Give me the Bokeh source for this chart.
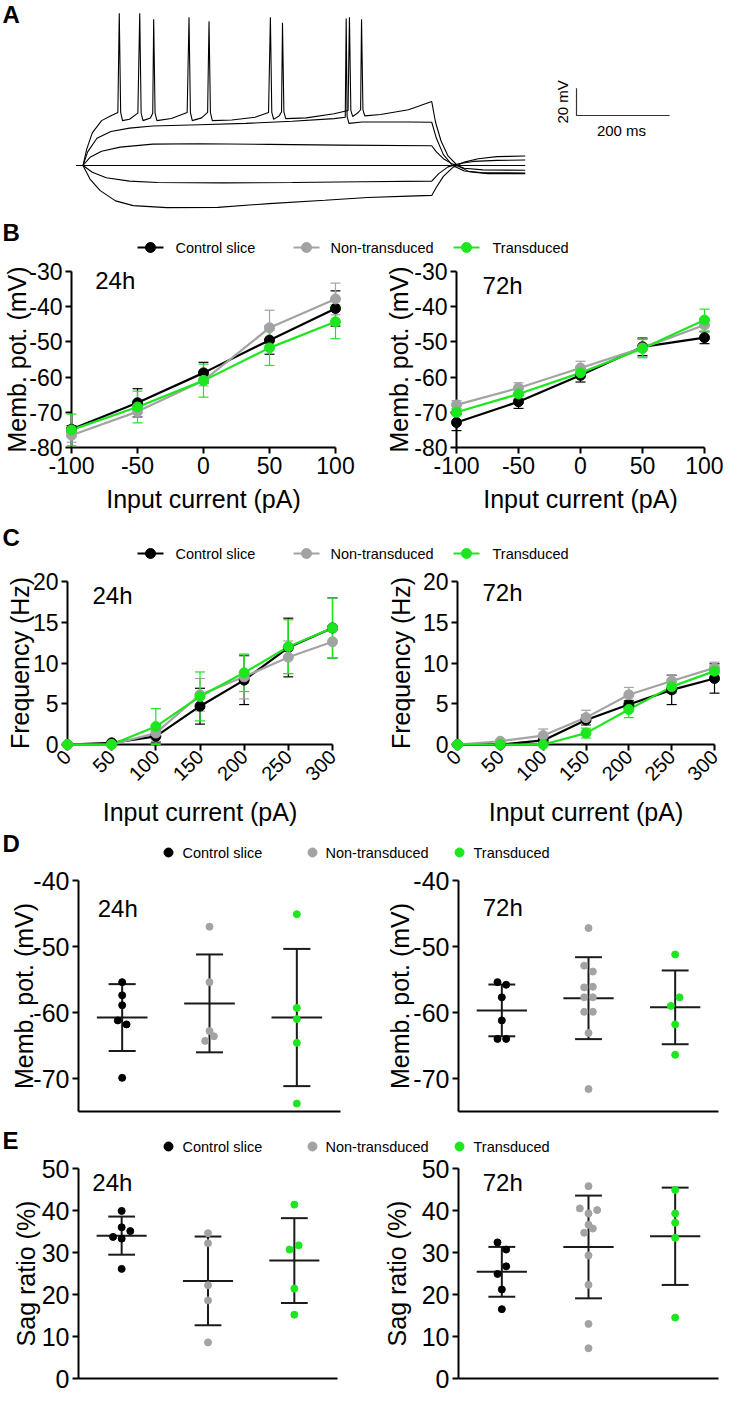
import math
import numpy as np
from bokeh.plotting import figure
from bokeh.layouts import column, row
from bokeh.models import Range1d, FixedTicker, Label
from bokeh.core.properties import value
from bokeh.embed import file_html
from bokeh.resources import INLINE

FONT = "Liberation Sans"
BLACK = "#000000"
GRAY = "#a3a3a3"
GREEN = "#1ee61e"
BAR = "#1a1a1a"

series = ["Control slice", "Non-transduced", "Transduced"]
colors = [BLACK, GRAY, GREEN]

# ---------------- Panel A: representative traces (time ms, Vm mV) ----------------
trace_currents = [-100, -50, 0, 50, 100, 150]
t_m100 = [-15, 0, 15, 37, 70, 108, 180, 290, 400, 520, 612, 700, 750, 760, 775, 795, 820, 850, 890, 951]
v_m100 = [-60, -60, -70, -78.5, -86, -89.5, -91, -90.8, -88, -85.5, -83.5, -82.5, -82, -76, -68, -61.5, -57.5, -55, -53.5, -53]
t_m50 = [-15, 0, 20, 50, 100, 160, 300, 450, 600, 750, 765, 785, 810, 840, 890, 951]
v_m50 = [-60, -60, -65, -69, -71.5, -72.5, -72.8, -72.5, -72, -71.5, -66, -61, -58.5, -57, -56.2, -56]
t_0 = [-15, 951]
v_0 = [-60, -60]
t_p50 = [-15, 0, 15, 40, 80, 150, 250, 400, 550, 750, 760, 775, 795, 820, 860, 951]
v_p50 = [-60, -60, -54, -49.5, -46.5, -44.3, -44, -44.5, -45, -45.5, -50, -55, -59, -62, -63.2, -63.5]
t_p100 = [-15, 0, 10, 30, 60, 100, 150, 250, 350, 450, 540, 564, 566, 568, 572, 600, 700, 750,
          760, 775, 795, 820, 860, 951]
v_p100 = [-60, -60, -50, -40, -35, -32.5, -31, -30, -29, -27.5, -25.5, -24.5, 48, -24, -29, -28, -28, -28.2,
          -40, -52, -60, -64, -65.3, -65.5]
t_p150 = [-15, 0, 8, 20, 40, 60, 75, 78, 81, 85, 100, 118, 122, 125, 129, 145, 150, 152, 155, 159,
          190, 224, 228, 231, 235, 255, 268, 271, 274, 278, 320, 370, 399, 403, 406, 410, 422, 427,
          429, 432, 436, 480, 540, 570, 573, 576, 580, 592, 597, 599, 602, 606, 640, 700, 750,
          758, 770, 785, 805, 830, 870, 951]
v_p150 = [-60, -60, -48, -36, -27, -23.5, -21, 52, -21, -27, -26, -21.5, 52, -21.5, -27, -25, -21.5, 47.5, -21.5, -27,
          -25.5, -21, 49, -21, -27, -25, -21, 46, -21, -27, -26.5, -24.5, -21, 49, -21, -26, -23.5, -20.5,
          45, -20.5, -25.5, -25, -22, -19.5, 49, -19.5, -24, -21, -19, 47.5, -19, -23.5, -22.5, -19, -13,
          -28, -42, -53, -60, -64.5, -66, -66]
scale_ms = 200
scale_mv = 20

# ---------------- Panel B: membrane potential vs input current ----------------
b_current = [-100, -50, 0, 50, 100]
b_yticks = [-80, -70, -60, -50, -40, -30]
b24_mean = [[-74.8, -67.3, -58.8, -49.5, -40.5],
            [-76.5, -69.8, -61.0, -46.0, -37.8],
            [-75.0, -68.5, -61.0, -51.7, -44.3]]
b24_err = [[1.0, 4.0, 3.0, 4.0, 5.0],
           [2.0, 1.5, 1.5, 5.0, 4.5],
           [4.5, 4.5, 4.7, 5.0, 4.8]]
b72_mean = [[-72.9, -67.0, -59.5, -51.4, -48.8],
            [-67.9, -63.1, -57.4, -51.7, -45.2],
            [-70.0, -64.8, -58.8, -51.9, -43.8]]
b72_err = [[2.3, 1.9, 1.9, 2.5, 1.7],
           [1.2, 1.5, 1.9, 2.5, 1.9],
           [1.0, 1.5, 1.5, 2.6, 3.1]]

# ---------------- Panel C: firing frequency vs input current ----------------
c_current = [0, 50, 100, 150, 200, 250, 300]
c_yticks = [0, 5, 10, 15, 20]
c24_mean = [[0, 0.2, 1.0, 4.7, 7.9, 11.9, 14.3],
            [0, 0.0, 1.4, 6.1, 8.3, 10.7, 12.6],
            [0, 0.0, 2.2, 5.9, 8.8, 12.0, 14.3]]
c24_err = [[0, 0.2, 0.7, 2.2, 3.0, 3.6, 3.7],
           [0, 0.0, 1.0, 2.0, 2.7, 2.0, 2.0],
           [0, 0.0, 2.2, 3.0, 2.3, 3.3, 3.7]]
c72_mean = [[0, 0.0, 0.5, 3.0, 4.9, 6.7, 8.1],
            [0, 0.4, 1.1, 3.3, 6.1, 7.8, 9.4],
            [0, 0.0, 0.0, 1.4, 4.3, 7.1, 9.0]]
c72_err = [[0, 0.0, 0.3, 0.6, 0.5, 1.8, 1.8],
           [0, 0.1, 0.8, 0.9, 0.9, 0.7, 0.7],
           [0, 0.0, 0.0, 0.6, 1.0, 0.8, 0.5]]

# ---------------- Panel D: resting membrane potential per cell ----------------
d_yticks = [-70, -60, -50, -40]
d24_vals = [[-55.4, -57.4, -58.9, -61.2, -61.8, -69.9],
            [-47.0, -55.4, -62.8, -64.3, -63.6],
            [-45.1, -59.3, -61.0, -64.6, -73.8]]
d24_jit = [[0, 0, 0, -0.05, 0.05, 0],
           [0, 0, 0, -0.05, 0.05],
           [0, 0, 0, 0, 0]]
d72_vals = [[-55.4, -55.8, -57.7, -61.2, -64.0, -64.0],
            [-47.2, -52.9, -53.8, -56.2, -56.1, -57.7, -57.7, -59.9, -59.9, -63.1, -71.6],
            [-51.2, -57.7, -59.0, -61.8, -66.4]]
d72_jit = [[-0.05, 0.05, 0, 0, -0.05, 0.05],
           [0, -0.05, 0.05, -0.05, 0.05, -0.05, 0.05, -0.05, 0.05, 0, 0],
           [0, 0.05, -0.05, 0, 0]]

# ---------------- Panel E: sag ratio per cell ----------------
e_yticks = [0, 10, 20, 30, 40, 50]
e24_vals = [[39.9, 36.0, 33.7, 35.1, 33.3, 26.1],
            [34.6, 32.2, 22.2, 18.6, 8.6],
            [41.4, 30.7, 31.7, 21.4, 15.2]]
e24_jit = [[0, 0, -0.1, 0.1, 0, 0],
           [0, 0, 0, 0, 0],
           [0, -0.055, 0.05, 0, 0]]
e72_vals = [[32.4, 30.7, 26.7, 24.9, 21.2, 16.5],
            [45.8, 40.5, 40.1, 39.3, 36.6, 34.7, 35.7, 29.3, 22.3, 13.0, 7.2],
            [44.9, 39.3, 37.1, 33.5, 14.5]]
e72_jit = [[-0.05, 0.05, 0.05, -0.05, 0, 0],
           [0, -0.1, 0.1, 0, 0, -0.05, 0.05, 0, 0, 0, 0],
           [0, 0, 0, 0, 0]]


# ---------------- helpers ----------------
def base_fig(w, h, bl, br, bt, bb, xr, yr, axes=True):
    kw = {}
    if not axes:
        kw = dict(x_axis_type=None, y_axis_type=None)
    p = figure(width=w, height=h, x_range=Range1d(*xr), y_range=Range1d(*yr),
               output_backend="svg", toolbar_location=None, tools="",
               min_border_left=bl, min_border_right=br, min_border_top=bt, min_border_bottom=bb, **kw)
    p.outline_line_color = None
    p.grid.visible = False
    p.background_fill_color = "white"
    p.border_fill_color = "white"
    return p


def style_axis(ax, ticks, tick_size, label_standoff, label_size="25px"):
    ax.ticker = FixedTicker(ticks=ticks)
    ax.major_label_overrides = {t: str(t) for t in ticks}
    ax.axis_line_width = 2
    ax.axis_line_color = "black"
    ax.major_tick_line_width = 2
    ax.major_tick_line_color = "black"
    ax.major_tick_out = 6
    ax.major_tick_in = 0
    ax.minor_tick_line_color = None
    ax.major_label_text_font = FONT
    ax.major_label_text_font_size = tick_size
    ax.major_label_text_color = "black"
    ax.major_label_standoff = 3
    ax.axis_label_text_font = FONT
    ax.axis_label_text_font_size = label_size
    ax.axis_label_text_font_style = "normal"
    ax.axis_label_text_color = "black"
    ax.axis_label_standoff = label_standoff


def hide_cat_axis(ax):
    ax.ticker = FixedTicker(ticks=[])
    ax.axis_line_width = 2
    ax.axis_line_color = "black"
    ax.major_tick_out = 0
    ax.major_tick_in = 0
    ax.minor_tick_line_color = None
    ax.major_label_text_font_size = "0px"


def add_tag(p, x, y, txt):
    p.add_layout(Label(x=x, y=y, text=txt, text_font=FONT, text_font_size="24px",
                       text_baseline="middle", text_align="left", text_color="black"))


def line_panel(p, frame_w, xs, means, errs):
    xs = np.array(xs, dtype=float)
    cap = 5.0 * (p.x_range.end - p.x_range.start) / frame_w
    for m, e, c in zip(means, errs, colors):
        m = np.array(m, dtype=float)
        e = np.array(e, dtype=float)
        k = e > 0
        x, lo, hi = xs[k], (m - e)[k], (m + e)[k]
        p.segment(x, lo, x, hi, line_color=c, line_width=1.2, level="overlay")
        p.segment(x - cap, hi, x + cap, hi, line_color=c, line_width=1.2, level="overlay")
        p.segment(x - cap, lo, x + cap, lo, line_color=c, line_width=1.2, level="overlay")
    for m, c in zip(means, colors):
        p.line(xs, m, line_color=c, line_width=2.2, level="overlay")
    for m, c in zip(means, colors):
        p.scatter(xs, m, size=10, fill_color=c, line_color=c, level="overlay")


def dot_panel(p, vals_list, jit_list):
    for i, vals in enumerate(vals_list):
        cx = i + 0.5
        v = np.array(vals, dtype=float)
        mean = v.mean()
        sd = v.std(ddof=1)
        p.segment([cx - 0.29], [mean], [cx + 0.29], [mean], line_color=BAR, line_width=2, level="overlay")
        p.segment([cx], [mean - sd], [cx], [mean + sd], line_color=BAR, line_width=2, level="overlay")
        p.segment([cx - 0.155, cx - 0.155], [mean - sd, mean + sd], [cx + 0.155, cx + 0.155],
                  [mean - sd, mean + sd], line_color=BAR, line_width=2, level="overlay")
    for i, (vals, jit, c) in enumerate(zip(vals_list, jit_list, colors)):
        cx = i + 0.5
        p.scatter(cx + np.array(jit, dtype=float), vals, size=7, fill_color=c, line_color=c, level="overlay")


LEG_LINE_X = [137, 293, 453]
LEG_LINE_TX = [175, 330, 492]
LEG_DOT_X = [168, 312, 459]
LEG_DOT_TX = [182, 325, 473]


def header(h, letter, letter_y, leg_y, lines):
    p = base_fig(723, h, 0, 0, 0, 0, (0, 723), (h, 0), axes=False)
    p.text(x=[2], y=[letter_y], text=[letter], text_font=value(FONT), text_font_size="24px",
           text_font_style="bold", text_baseline="middle", text_align="left", text_color="black")
    if lines:
        for gx, tx, name, c in zip(LEG_LINE_X, LEG_LINE_TX, series, colors):
            p.segment([gx], [leg_y], [gx + 26], [leg_y], line_color=c, line_width=2.2)
            p.scatter([gx + 13], [leg_y], size=10, fill_color=c, line_color=c)
            p.text(x=[tx], y=[leg_y], text=[name], text_font=value(FONT), text_font_size="14.5px",
                   text_baseline="middle", text_align="left", text_color="black")
    else:
        for gx, tx, name, c in zip(LEG_DOT_X, LEG_DOT_TX, series, colors):
            p.scatter([gx], [leg_y], size=9, fill_color=c, line_color=c)
            p.text(x=[tx], y=[leg_y], text=[name], text_font=value(FONT), text_font_size="14.5px",
                   text_baseline="middle", text_align="left", text_color="black")
    return p


# ---------------- Panel A figure ----------------
A_H = 212
PX_MS = 0.465
PX_MV = 1.36
T0_X = 82.5
V0_Y = 165.0
V_REF = -60.0


def a_t(px):
    return (px - T0_X) / PX_MS


def a_v(py):
    return V_REF + (V0_Y - py) / PX_MV


pa = base_fig(723, A_H, 0, 0, 0, 0, (a_t(0), a_t(723)), (a_v(A_H), a_v(0)), axes=False)
for tt, vv in [(t_m100, v_m100), (t_m50, v_m50), (t_0, v_0), (t_p50, v_p50), (t_p100, v_p100), (t_p150, v_p150)]:
    pa.line(tt, vv, line_color="black", line_width=1.1)
sb_t = a_t(576)
sb_v = a_v(115)
pa.line([sb_t, sb_t, sb_t + scale_ms], [sb_v + scale_mv, sb_v, sb_v], line_color="#333333", line_width=1.2)
pa.text(x=[a_t(562)], y=[sb_v + scale_mv / 2], text=[f"{scale_mv} mV"], angle=math.pi / 2,
        text_font=value(FONT), text_font_size="15px", text_align="center", text_baseline="middle",
        text_color="black")
pa.text(x=[a_t(621)], y=[a_v(130)], text=[f"{scale_ms} ms"],
        text_font=value(FONT), text_font_size="15px", text_align="center", text_baseline="middle",
        text_color="black")
pa.text(x=[a_t(2)], y=[a_v(14)], text=["A"], text_font=value(FONT), text_font_size="24px",
        text_font_style="bold", text_align="left", text_baseline="middle", text_color="black")

# ---------------- Panel B ----------------
hB = header(46, "B", 19.5, 35, True)


def b_fig(w, bl, br, fw, mean, err, ylab_standoff, tag, tag_x, tag_y):
    p = base_fig(w, 264, bl, br, 13, 75, (-100, 100), (-80, -30))
    p.xaxis.axis_label = "Input current (pA)"
    p.yaxis.axis_label = "Memb. pot. (mV)"
    style_axis(p.xaxis[0], b_current, "23px", 8)
    style_axis(p.yaxis[0], b_yticks, "23px", ylab_standoff)
    line_panel(p, fw, b_current, mean, err)
    add_tag(p, tag_x, tag_y, tag)
    return p


pB1 = b_fig(375, 68, 40, 267, b24_mean, b24_err, -5, "24h", -82.0, -32.6)
pB2 = b_fig(348, 81, 19, 248, b72_mean, b72_err, -2, "72h", -79.0, -34.0)

# ---------------- Panel C ----------------
hC = header(38, "C", 15, 31, True)


def c_fig(w, bl, br, bt, bb, fw, mean, err, ylab_standoff, xlab_standoff, tag, tag_x, tag_y):
    p = base_fig(w, 270, bl, br, bt, bb, (0, 300), (0, 20))
    p.xaxis.axis_label = "Input current (pA)"
    p.yaxis.axis_label = "Frequency (Hz)"
    style_axis(p.xaxis[0], c_current, "20px", xlab_standoff)
    style_axis(p.yaxis[0], c_yticks, "23px", ylab_standoff)
    p.xaxis.major_label_orientation = math.pi / 4
    line_panel(p, fw, c_current, mean, err)
    add_tag(p, tag_x, tag_y, tag)
    return p


pC1 = c_fig(377, 67, 45, 10, 86, 265, c24_mean, c24_err, -4, 8, "24h", 28.3, 18.3)
pC2 = c_fig(346, 80, 9, 21, 74, 257, c72_mean, c72_err, 5, 8, "72h", 29.2, 18.6)

# ---------------- Panel D ----------------
hD = header(35, "D", 13, 22, False)


def d_fig(w, bl, br, vals, jit, ylab_standoff, tag, tag_x, tag_y):
    p = base_fig(w, 253, bl, br, 15, 7, (0, 3), (-75, -40))
    p.yaxis.axis_label = "Memb. pot. (mV)"
    hide_cat_axis(p.xaxis[0])
    style_axis(p.yaxis[0], d_yticks, "25px", ylab_standoff)
    dot_panel(p, vals, jit)
    add_tag(p, tag_x, tag_y, tag)
    return p


pD1 = d_fig(378, 78, 38, d24_vals, d24_jit, -8, "24h", 0.22, -44.2)
pD2 = d_fig(345, 80, 5, d72_vals, d72_jit, -4, "72h", 0.28, -44.1)

# ---------------- Panel E ----------------
hE = header(37, "E", 22, 28, False)


def e_fig(w, bl, br, vals, jit, ylab_standoff, tag, tag_x, tag_y):
    p = base_fig(w, 238, bl, br, 13, 15, (0, 3), (0, 50))
    p.yaxis.axis_label = "Sag ratio (%)"
    hide_cat_axis(p.xaxis[0])
    style_axis(p.yaxis[0], e_yticks, "25px", ylab_standoff)
    dot_panel(p, vals, jit)
    add_tag(p, tag_x, tag_y, tag)
    return p


pE1 = e_fig(378, 78, 41, e24_vals, e24_jit, -1, "24h", 0.16, 46.7)
pE2 = e_fig(345, 80, 5, e72_vals, e72_jit, 8, "72h", 0.28, 46.7)

layout = column(pa, hB, row(pB1, pB2), hC, row(pC1, pC2), hD, row(pD1, pD2), hE, row(pE1, pE2))

open("out.html", "w").write(file_html(layout, INLINE))
